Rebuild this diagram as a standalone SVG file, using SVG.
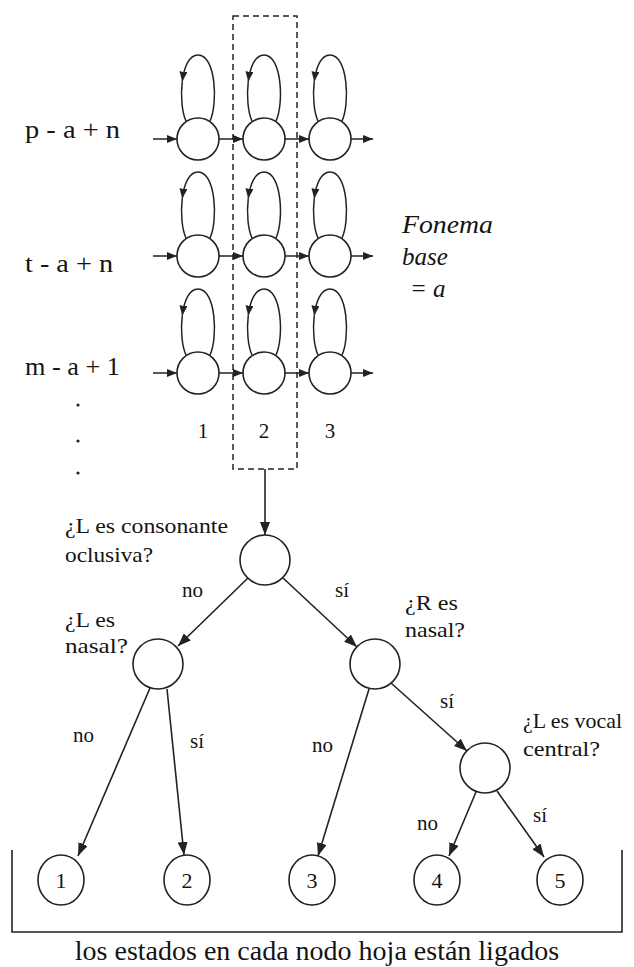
<svg xmlns="http://www.w3.org/2000/svg" width="634" height="967" viewBox="0 0 634 967">
<style>
.n{fill:#fff;stroke:#222;stroke-width:1.6}
.l{fill:none;stroke:#222;stroke-width:1.6}
.c{fill:none;stroke:#222;stroke-width:1.5}
.t{font-family:"Liberation Serif","Times New Roman",serif;fill:#141414}
.lab{font-size:21px}
.row{font-size:25px}
.it{font-size:25px;font-style:italic}
</style>
<defs>
<marker id="a" markerUnits="userSpaceOnUse" markerWidth="10" markerHeight="8" refX="10" refY="4" orient="auto"><path d="M0,0 L10,4 L0,8 z" fill="#222"/></marker>
<marker id="b" markerUnits="userSpaceOnUse" markerWidth="13" markerHeight="10" refX="13" refY="5" orient="auto"><path d="M0,0 L13,5 L0,10 z" fill="#222"/></marker>
<path id="loop1" d="M12,-18 C20,-35 18,-84 0,-84 C-9,-84 -14,-71.75 -15.75,-57.4"/>
<path id="loop2" d="M-15.75,-57.4 C-17.5,-43 -16,-26.5 -12,-18"/>
</defs>

<rect x="233" y="16" width="64" height="453" fill="none" stroke="#222" stroke-width="1.5" stroke-dasharray="6,4"/>

<g id="hmm-connectors">
<g id="row1-conn" transform="translate(0,139)">
<line class="c" x1="153" y1="0" x2="177" y2="0" marker-end="url(#a)"/>
<line class="c" x1="219" y1="0" x2="243" y2="0" marker-end="url(#a)"/>
<line class="c" x1="285" y1="0" x2="309" y2="0" marker-end="url(#a)"/>
<line class="c" x1="351" y1="0" x2="373" y2="0" marker-end="url(#a)"/>
<g transform="translate(198,0)"><use href="#loop1" class="c" marker-end="url(#a)"/><use href="#loop2" class="c"/></g>
<g transform="translate(264,0)"><use href="#loop1" class="c" marker-end="url(#a)"/><use href="#loop2" class="c"/></g>
<g transform="translate(330,0)"><use href="#loop1" class="c" marker-end="url(#a)"/><use href="#loop2" class="c"/></g>
</g>
<g id="row2-conn" transform="translate(0,256)">
<line class="c" x1="153" y1="0" x2="177" y2="0" marker-end="url(#a)"/>
<line class="c" x1="219" y1="0" x2="243" y2="0" marker-end="url(#a)"/>
<line class="c" x1="285" y1="0" x2="309" y2="0" marker-end="url(#a)"/>
<line class="c" x1="351" y1="0" x2="373" y2="0" marker-end="url(#a)"/>
<g transform="translate(198,0)"><use href="#loop1" class="c" marker-end="url(#a)"/><use href="#loop2" class="c"/></g>
<g transform="translate(264,0)"><use href="#loop1" class="c" marker-end="url(#a)"/><use href="#loop2" class="c"/></g>
<g transform="translate(330,0)"><use href="#loop1" class="c" marker-end="url(#a)"/><use href="#loop2" class="c"/></g>
</g>
<g id="row3-conn" transform="translate(0,373)">
<line class="c" x1="153" y1="0" x2="177" y2="0" marker-end="url(#a)"/>
<line class="c" x1="219" y1="0" x2="243" y2="0" marker-end="url(#a)"/>
<line class="c" x1="285" y1="0" x2="309" y2="0" marker-end="url(#a)"/>
<line class="c" x1="351" y1="0" x2="373" y2="0" marker-end="url(#a)"/>
<g transform="translate(198,0)"><use href="#loop1" class="c" marker-end="url(#a)"/><use href="#loop2" class="c"/></g>
<g transform="translate(264,0)"><use href="#loop1" class="c" marker-end="url(#a)"/><use href="#loop2" class="c"/></g>
<g transform="translate(330,0)"><use href="#loop1" class="c" marker-end="url(#a)"/><use href="#loop2" class="c"/></g>
</g>
</g>

<g id="hmm-states">
<g id="s11"><circle class="n" cx="198" cy="139" r="21"/></g>
<g id="s12"><circle class="n" cx="264" cy="139" r="21"/></g>
<g id="s13"><circle class="n" cx="330" cy="139" r="21"/></g>
<g id="s21"><circle class="n" cx="198" cy="256" r="21"/></g>
<g id="s22"><circle class="n" cx="264" cy="256" r="21"/></g>
<g id="s23"><circle class="n" cx="330" cy="256" r="21"/></g>
<g id="s31"><circle class="n" cx="198" cy="373" r="21"/></g>
<g id="s32"><circle class="n" cx="264" cy="373" r="21"/></g>
<g id="s33"><circle class="n" cx="330" cy="373" r="21"/></g>
</g>

<g id="hmm-labels" class="t">
<text class="row" x="25" y="138" textLength="95" lengthAdjust="spacingAndGlyphs">p - a + n</text>
<text class="row" x="25" y="272" textLength="88" lengthAdjust="spacingAndGlyphs">t - a + n</text>
<text class="row" x="25" y="375" textLength="95" lengthAdjust="spacingAndGlyphs">m - a + 1</text>
<circle cx="78" cy="405" r="1.6" fill="#222"/>
<circle cx="78" cy="441" r="1.6" fill="#222"/>
<circle cx="78" cy="473" r="1.6" fill="#222"/>
<text x="203" y="438" font-size="21" text-anchor="middle">1</text>
<text x="264" y="438" font-size="21" text-anchor="middle">2</text>
<text x="330" y="438" font-size="21" text-anchor="middle">3</text>
<text class="it" x="402" y="233" textLength="91" lengthAdjust="spacingAndGlyphs">Fonema</text>
<text class="it" x="402" y="265">base</text>
<text class="it" x="410" y="297">= a</text>
</g>

<g id="connectors">
<line class="l" x1="265" y1="469" x2="265" y2="535" marker-end="url(#b)"/>
<line class="l" x1="248" y1="578" x2="178" y2="646" marker-end="url(#b)"/>
<line class="l" x1="283" y1="578" x2="357" y2="647" marker-end="url(#b)"/>
<line class="l" x1="150" y1="688" x2="78" y2="856" marker-end="url(#b)"/>
<line class="l" x1="167" y1="689" x2="184" y2="855" marker-end="url(#b)"/>
<line class="l" x1="369" y1="689" x2="318" y2="856" marker-end="url(#b)"/>
<line class="l" x1="391" y1="683" x2="467" y2="751" marker-end="url(#b)"/>
<line class="l" x1="476" y1="792" x2="449" y2="856" marker-end="url(#b)"/>
<line class="l" x1="497" y1="791" x2="544" y2="857" marker-end="url(#b)"/>
</g>

<g id="root"><circle class="n" cx="265" cy="560" r="25"/>
<text class="t lab" x="65" y="533" textLength="163" lengthAdjust="spacingAndGlyphs">¿L es consonante</text>
<text class="t lab" x="65" y="562" textLength="88" lengthAdjust="spacingAndGlyphs">oclusiva?</text></g>
<g id="left"><circle class="n" cx="158" cy="664" r="25"/>
<text class="t lab" x="65" y="627" textLength="50" lengthAdjust="spacingAndGlyphs">¿L es</text>
<text class="t lab" x="65" y="653" textLength="63" lengthAdjust="spacingAndGlyphs">nasal?</text></g>
<g id="right"><circle class="n" cx="375" cy="664" r="25"/>
<text class="t lab" x="405" y="610" textLength="53" lengthAdjust="spacingAndGlyphs">¿R es</text>
<text class="t lab" x="405" y="637" textLength="60" lengthAdjust="spacingAndGlyphs">nasal?</text></g>
<g id="vocal"><circle class="n" cx="485" cy="768" r="25"/>
<text class="t lab" x="523" y="728" textLength="99" lengthAdjust="spacingAndGlyphs">¿L es vocal</text>
<text class="t lab" x="523" y="756" textLength="77" lengthAdjust="spacingAndGlyphs">central?</text></g>

<g id="edge-labels" class="t lab">
<text x="182" y="597">no</text>
<text x="335" y="597">sí</text>
<text x="73" y="742">no</text>
<text x="190" y="748">sí</text>
<text x="312" y="752">no</text>
<text x="440" y="708">sí</text>
<text x="417" y="830">no</text>
<text x="533" y="822">sí</text>
</g>

<g id="leaf1"><ellipse class="n" cx="61" cy="880" rx="23" ry="25"/><text class="t" x="61" y="888" font-size="22" text-anchor="middle">1</text></g>
<g id="leaf2"><ellipse class="n" cx="187" cy="880" rx="23" ry="25"/><text class="t" x="187" y="888" font-size="22" text-anchor="middle">2</text></g>
<g id="leaf3"><ellipse class="n" cx="312" cy="880" rx="23" ry="25"/><text class="t" x="312" y="888" font-size="22" text-anchor="middle">3</text></g>
<g id="leaf4"><ellipse class="n" cx="437" cy="880" rx="23" ry="25"/><text class="t" x="437" y="888" font-size="22" text-anchor="middle">4</text></g>
<g id="leaf5"><ellipse class="n" cx="560" cy="880" rx="23" ry="25"/><text class="t" x="560" y="888" font-size="22" text-anchor="middle">5</text></g>

<g id="bracket">
<path class="l" d="M12,850 V932 H622 V850"/>
<text class="t" x="317" y="960" font-size="28" text-anchor="middle">los estados en cada nodo hoja están ligados</text>
</g>
</svg>
